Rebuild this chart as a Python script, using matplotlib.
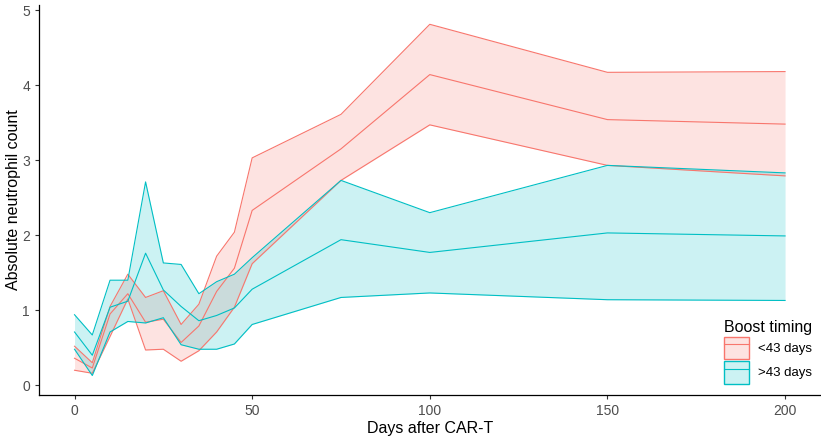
import numpy as np
import matplotlib.pyplot as plt
from matplotlib.patches import Patch
from matplotlib.lines import Line2D

plt.rcParams['font.family'] = ['Liberation Sans', 'DejaVu Sans']

days = [0, 5, 10, 15, 20, 25, 30, 35, 40, 45, 50, 75, 100, 150, 200]

# <43 days boost
early_lower = [0.20, 0.16, 0.65, 1.15, 0.47, 0.48, 0.32, 0.46, 0.71, 1.04, 1.62, 2.73, 3.47, 2.93, 2.79]
early_mean = [0.36, 0.23, 0.95, 1.22, 0.84, 0.88, 0.57, 0.79, 1.25, 1.56, 2.33, 3.15, 4.14, 3.54, 3.48]
early_upper = [0.52, 0.30, 1.05, 1.48, 1.17, 1.26, 0.81, 1.08, 1.72, 2.04, 3.03, 3.61, 4.81, 4.17, 4.18]

# >43 days boost
late_lower = [0.48, 0.13, 0.71, 0.85, 0.83, 0.90, 0.54, 0.48, 0.48, 0.55, 0.81, 1.17, 1.23, 1.14, 1.13]
late_mean = [0.71, 0.40, 1.04, 1.12, 1.76, 1.27, 1.05, 0.86, 0.93, 1.03, 1.28, 1.94, 1.77, 2.03, 1.99]
late_upper = [0.94, 0.67, 1.40, 1.40, 2.71, 1.63, 1.61, 1.22, 1.38, 1.48, 1.70, 2.73, 2.30, 2.93, 2.83]

groups = ['<43 days', '>43 days']
colors = ['#F8766D', '#00BFC4']

fig = plt.figure(figsize=(8.21, 4.36), dpi=100)
ax = fig.add_axes([0.0475, 0.094, 0.952, 0.895])

series = [(early_lower, early_mean, early_upper), (late_lower, late_mean, late_upper)]
for (lo, mid, hi), col in zip(series, colors):
    ax.fill_between(days, lo, hi, color=col, alpha=0.2, linewidth=0)
    for s in (lo, mid, hi):
        ax.plot(days, s, color=col, linewidth=0.8)

ax.set_xlim(-10, 210)
ax.set_ylim(-0.13, 5.07)
ax.set_xticks([0, 50, 100, 150, 200])
ax.set_yticks([0, 1, 2, 3, 4, 5])

for side in ['top', 'right']:
    ax.spines[side].set_visible(False)
for side in ['left', 'bottom']:
    ax.spines[side].set_color('black')
    ax.spines[side].set_linewidth(0.9)
ax.tick_params(colors='#333333', labelcolor='#4D4D4D', labelsize=10, length=3, width=0.8)

ax.set_xlabel('Days after CAR-T', fontsize=11.5, labelpad=2)
ax.set_ylabel('Absolute neutrophil count', fontsize=11.5, labelpad=1)

handles = []
for col in colors:
    handles.append((Patch(facecolor=col, alpha=0.2, edgecolor='none'),
                    Patch(facecolor='none', edgecolor=col, linewidth=1.0),
                    Line2D([], [], color=col, linewidth=0.8)))
leg = ax.legend(handles, groups, title='Boost timing', loc='lower right',
                bbox_to_anchor=(1.006, -0.005), frameon=False, fontsize=9.5,
                title_fontsize=11.5, handlelength=1.9, handleheight=2.3,
                handletextpad=0.7, labelspacing=0.1, borderaxespad=0.6)
leg._legend_box.align = 'left'

fig.savefig('out.png', dpi=100)
